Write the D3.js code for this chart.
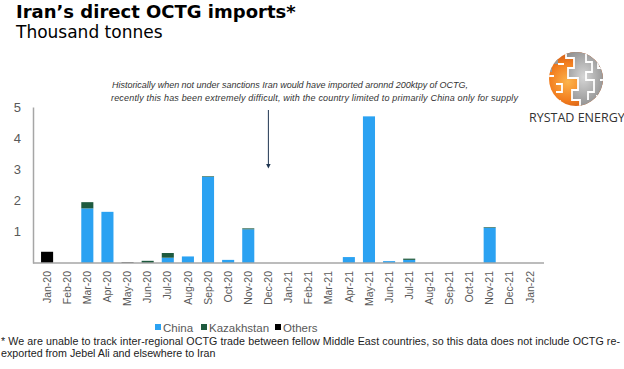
<!DOCTYPE html>
<html>
<head>
<meta charset="utf-8">
<script src="https://cdn.jsdelivr.net/npm/d3@7"></script>
<style>
	body { margin: 0; background: #fff; }
	svg text { font-family: "Liberation Sans", Arial, sans-serif; }
</style>
</head>
<body>
<div id="chart"></div>
<script>
// months shown on the x axis
var months = ["Jan-20", "Feb-20", "Mar-20", "Apr-20", "May-20", "Jun-20", "Jul-20", "Aug-20",
	"Sep-20", "Oct-20", "Nov-20", "Dec-20", "Jan-21", "Feb-21", "Mar-21", "Apr-21", "May-21",
	"Jun-21", "Jul-21", "Aug-21", "Sep-21", "Oct-21", "Nov-21", "Dec-21", "Jan-22"];
// thousand tonnes per origin
var china      = [0, 0, 1.75, 1.64, 0, 0, 0.17, 0.21, 2.76, 0.10, 1.08, 0, 0, 0, 0, 0.19, 4.70, 0.06, 0.10, 0, 0, 0, 1.13, 0, 0];
var kazakhstan = [0, 0, 0.20, 0, 0, 0.07, 0.15, 0, 0.02, 0, 0.03, 0, 0, 0, 0, 0, 0, 0, 0.04, 0, 0, 0, 0.02, 0, 0];
var others     = [0.36, 0, 0, 0, 0.02, 0, 0, 0, 0, 0, 0, 0, 0, 0, 0, 0, 0, 0, 0, 0, 0, 0, 0, 0, 0];
var yTicks = [1, 2, 3, 4, 5];
var seriesNames = ["China", "Kazakhstan", "Others"];

var colors = { "China": "#2ba2f2", "Kazakhstan": "#1e5a3e", "Others": "#000000" };
var width = 624, height = 369;
var axisColor = "#a6a6a6", labelColor = "#595959";

var svg = d3.select("#chart").append("svg")
	.attr("width", width)
	.attr("height", height);
var defs = svg.append("defs");

// build rows for the stack
var rows = months.map(function(m, i) {
	return { month: m, China: china[i], Kazakhstan: kazakhstan[i], Others: others[i] };
});
var stacked = d3.stack().keys(seriesNames)(rows);

var x = d3.scaleBand().domain(months).range([33, 544]).padding(0.4);
var y = d3.scaleLinear().domain([0, 5]).range([263, 107]);

// titles
svg.append("text")
	.attr("x", 16).attr("y", 18)
	.style("font-family", "'DejaVu Sans', Verdana, sans-serif")
	.style("font-weight", "bold")
	.style("font-size", "18px")
	.attr("fill", "#000")
	.text("Iran\u2019s direct OCTG imports*");
svg.append("text")
	.attr("x", 16).attr("y", 38)
	.style("font-family", "'DejaVu Sans', Verdana, sans-serif")
	.style("font-size", "17px")
	.attr("fill", "#000")
	.text("Thousand tonnes");

// bars
svg.append("g").selectAll("g")
	.data(stacked).enter()
	.append("g")
		.attr("fill", function(d) { return colors[d.key]; })
	.selectAll("rect")
	.data(function(d) { return d; }).enter()
	.append("rect")
		.attr("x", function(d) { return x(d.data.month); })
		.attr("width", x.bandwidth())
		.attr("y", function(d) { return y(d[1]); })
		.attr("height", function(d) { return y(d[0]) - y(d[1]); });

// y axis
var yAxis = svg.append("g")
	.attr("transform", "translate(33,0)")
	.call(d3.axisLeft(y).tickValues(yTicks).tickFormat(d3.format("d")).tickSize(0).tickPadding(12));
yAxis.select(".domain").attr("stroke", axisColor).attr("stroke-width", 1.5);
yAxis.selectAll("text")
	.style("font-size", "13px")
	.attr("fill", labelColor);

// x axis
var xAxis = svg.append("g")
	.attr("transform", "translate(0,263)")
	.call(d3.axisBottom(x).tickSize(0).tickSizeOuter(0));
xAxis.select(".domain").attr("stroke", axisColor).attr("stroke-width", 1.5)
	.attr("d", "M33,0H544");
xAxis.selectAll("text")
	.attr("transform", "rotate(-90)")
	.attr("x", -8)
	.attr("y", 0)
	.attr("dy", "0.35em")
	.style("text-anchor", "end")
	.style("font-size", "10.5px")
	.attr("fill", labelColor);

// annotation
var noteLines = [
	{ x: 112, y: 88, len: 356, text: "Historically when not under sanctions Iran would have imported aronnd 200ktpy of OCTG," },
	{ x: 111, y: 101, len: 407, text: "recently this has been extremely difficult, with the country limited to primarily China only for supply" }
];
svg.append("g").selectAll("text")
	.data(noteLines).enter()
	.append("text")
		.attr("x", function(d) { return d.x; })
		.attr("y", function(d) { return d.y; })
		.attr("textLength", function(d) { return d.len; })
		.attr("lengthAdjust", "spacing")
		.style("font-style", "italic")
		.style("font-size", "9px")
		.attr("fill", "#333")
		.text(function(d) { return d.text; });

defs.append("marker")
	.attr("id", "arrowhead")
	.attr("viewBox", "0 0 10 10")
	.attr("refX", 5).attr("refY", 5)
	.attr("markerWidth", 5).attr("markerHeight", 5)
	.attr("orient", "auto")
	.append("path")
		.attr("d", "M0,0L10,5L0,10z")
		.attr("fill", "#1f3550");
svg.append("line")
	.attr("x1", x("Dec-20") + x.bandwidth() / 2).attr("x2", x("Dec-20") + x.bandwidth() / 2)
	.attr("y1", 110).attr("y2", 166)
	.attr("stroke", "#1f3550")
	.attr("stroke-width", 1)
	.attr("marker-end", "url(#arrowhead)");

// legend
var legend = svg.append("g").attr("transform", "translate(0,332)");
var legendX = [155, 201, 275];
seriesNames.forEach(function(name, i) {
	legend.append("rect")
		.attr("x", legendX[i]).attr("y", -8)
		.attr("width", 6).attr("height", 6)
		.attr("fill", colors[name]);
	legend.append("text")
		.attr("x", legendX[i] + 8).attr("y", 0)
		.style("font-size", "11.5px")
		.attr("fill", labelColor)
		.text(name);
});

// footnote
var foot = svg.append("g").style("font-size", "10.7px").attr("fill", "#222");
foot.append("text").attr("x", 1).attr("y", 345)
	.attr("textLength", 619).attr("lengthAdjust", "spacing")
	.text("* We are unable to track inter-regional OCTG trade between fellow Middle East countries, so this data does not include OCTG re-");
foot.append("text").attr("x", 1).attr("y", 357)
	.text("exported from Jebel Ali and elsewhere to Iran");

// logo
var orange = defs.append("radialGradient").attr("id", "orangeGrad")
	.attr("cx", "35%").attr("cy", "55%").attr("r", "70%");
orange.append("stop").attr("offset", "0%").attr("stop-color", "#fcb44c");
orange.append("stop").attr("offset", "50%").attr("stop-color", "#f27d1e");
orange.append("stop").attr("offset", "100%").attr("stop-color", "#b9420d");
var grey = defs.append("radialGradient").attr("id", "greyGrad")
	.attr("cx", "40%").attr("cy", "45%").attr("r", "75%");
grey.append("stop").attr("offset", "0%").attr("stop-color", "#d6d6d6");
grey.append("stop").attr("offset", "100%").attr("stop-color", "#6f6f6f");
defs.append("clipPath").attr("id", "globeClip")
	.append("circle").attr("cx", 576).attr("cy", 79).attr("r", 27);

var logo = svg.append("g");
logo.append("circle").attr("cx", 576).attr("cy", 79).attr("r", 27).attr("fill", "url(#orangeGrad)");
var globe = logo.append("g").attr("clip-path", "url(#globeClip)");
// grey tiles on the right and top of the globe
globe.append("path")
	.attr("d", "M566,50 L566,58 L574,58 L574,68 L568,68 L568,78 L578,78 L578,90 L572,90 L572,100 L580,100 L580,110 L610,110 L610,50 Z")
	.attr("fill", "url(#greyGrad)");
globe.append("path")
	.attr("d", "M548,56 L558,56 L558,64 L552,64 L552,72 L546,72 Z")
	.attr("fill", "#9a9a9a");
// white seams between tiles
globe.append("path")
	.attr("d", "M566,50 L566,58 L574,58 L574,68 L568,68 L568,78 L578,78 L578,90 L572,90 L572,100 L580,100 L580,110" +
		" M586,54 L586,62 L592,62 L592,72 L586,72 L586,80 L594,80 L594,92 L588,92 L588,100" +
		" M598,60 L598,68 L604,68 M600,80 L606,80 M596,96 L602,96 L602,104" +
		" M556,84 L562,84 L562,92 L556,92 M548,76 L554,76 M560,100 L560,108 M558,64 L564,64")
	.attr("fill", "none")
	.attr("stroke", "#fff")
	.attr("stroke-width", 1.8);
logo.append("text")
	.attr("x", 529).attr("y", 122)
	.style("font-family", "'Open Sans', sans-serif")
	.style("font-size", "12.5px")
	.attr("fill", "#333")
	.text("RYSTAD ENERGY");
</script>
</body>
</html>
